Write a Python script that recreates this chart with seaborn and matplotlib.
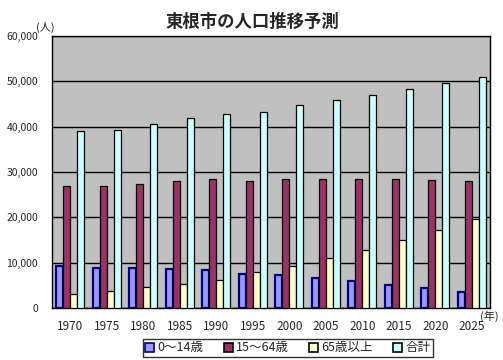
import pandas as pd
import matplotlib.pyplot as plt
import seaborn as sns
from matplotlib.patches import Patch
from matplotlib.ticker import FuncFormatter, MultipleLocator

# data
years = ['1970', '1975', '1980', '1985', '1990', '1995', '2000', '2005', '2010', '2015', '2020', '2025']
age_0_14 = [9200, 8800, 8800, 8600, 8450, 7500, 7300, 6600, 6000, 5050, 4400, 3500]
age_15_64 = [27000, 27000, 27400, 28100, 28500, 28100, 28450, 28450, 28450, 28450, 28250, 28000]
age_65_up = [3150, 3800, 4700, 5350, 6250, 7950, 9350, 11050, 12850, 15050, 17300, 19700]
total = [39100, 39350, 40600, 41900, 42800, 43250, 44800, 45950, 47000, 48300, 49650, 50950]

series = ['0～14歳', '15～64歳', '65歳以上', '合計']
colors = ['#9999FF', '#993366', '#FFFFCC', '#CCFFFF']

df = pd.DataFrame({'year': years * 4,
                   'group': sum([[s] * len(years) for s in series], []),
                   'pop': age_0_14 + age_15_64 + age_65_up + total})

sns.set_style('white')
plt.rcParams['font.family'] = ['Noto Sans CJK JP', 'DejaVu Sans']

fig = plt.figure(figsize=(5.03, 3.6), dpi=100)
ax = fig.add_axes([52 / 503, 1 - 308 / 360, 438 / 503, 272 / 360])
ax.set_facecolor('#C0C0C0')

sns.barplot(data=df, x='year', y='pop', hue='group', hue_order=series,
            palette=colors, width=0.76, saturation=1, legend=False, ax=ax, zorder=3)

for i, cont in enumerate(ax.containers):
    for bar in cont:
        if i == 0:
            bar.set_edgecolor('#000080')
            bar.set_linewidth(1.6)
        else:
            bar.set_edgecolor('black')
            bar.set_linewidth(0.9)

ax.set_ylim(0, 60000)
ax.set_xlim(-0.5, len(years) - 0.5)
ax.yaxis.set_major_locator(MultipleLocator(10000))
ax.yaxis.set_major_formatter(FuncFormatter(lambda v, p: f'{int(v):,}'))
ax.grid(axis='y', color='black', linewidth=1, zorder=1)
ax.set_axisbelow(True)
ax.set_xlabel('')
ax.set_ylabel('')
for s in ax.spines.values():
    s.set_color('black')
    s.set_linewidth(1)

ax.tick_params(axis='y', length=0, pad=10, labelsize=7.5)
ax.tick_params(axis='x', length=0, pad=9, labelsize=8.5)
ax.set_xticks([x + 0.5 for x in range(len(years) - 1)], minor=True)
ax.tick_params(axis='x', which='minor', direction='in', length=3, width=0.8, color='black')

fig.text(0.502, 1 - 22 / 360, '東根市の人口推移予測', ha='center', va='center',
         fontsize=12.5, fontweight='bold')
fig.text(45 / 503, 1 - 27 / 360, '(人)', ha='center', va='center', fontsize=8)
fig.text(489 / 503, 1 - 316 / 360, '(年)', ha='center', va='center', fontsize=8)

handles = [Patch(facecolor=c, edgecolor='#000080' if i == 0 else 'black', linewidth=1.2)
           for i, c in enumerate(colors)]
leg = fig.legend(handles, series, ncol=4, loc='center', bbox_to_anchor=(288 / 503, 1 - 348 / 360),
                 fontsize=9, frameon=True, fancybox=False, handlelength=0.7, handleheight=0.7,
                 handletextpad=0.3, columnspacing=1.6, borderpad=0.2, borderaxespad=0)
leg.get_frame().set_edgecolor('black')
leg.get_frame().set_linewidth(1)

plt.savefig('out.png', dpi=100)
